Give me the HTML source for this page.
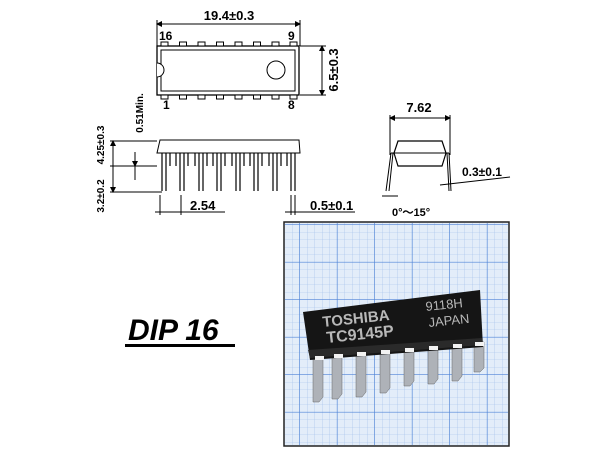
<!DOCTYPE html>
<html><head><style>
body{margin:0;width:600px;height:451px;background:#fff;overflow:hidden;font-family:"Liberation Sans",sans-serif}
</style></head><body>
<svg width="600" height="451" viewBox="0 0 600 451" xmlns="http://www.w3.org/2000/svg">
<defs>
<pattern id="g" width="7.5" height="7.5" patternUnits="userSpaceOnUse"><path d="M7.5 0V7.5H0" fill="none" stroke="#9dbde9" stroke-width="0.6"/></pattern>
<pattern id="G" width="37.5" height="37.5" patternUnits="userSpaceOnUse"><path d="M37.5 0V37.5H0" fill="none" stroke="#4d82d6" stroke-width="1.3"/></pattern>
<marker id="a" markerWidth="6" markerHeight="6" refX="5" refY="3" orient="auto-start-reverse"><path d="M0 0L6 3L0 6z" fill="#000"/></marker>
</defs>
<g stroke="#000" fill="none" stroke-width="1">
<line x1="157" y1="24" x2="300" y2="24" marker-start="url(#a)" marker-end="url(#a)"/>
<line x1="157" y1="20" x2="157" y2="46"/><line x1="300" y1="20" x2="300" y2="46"/>
<rect x="157" y="46" width="142" height="49" stroke-width="1.3"/>
<rect x="161" y="50" width="134" height="41"/>
<path d="M157 63A7 7 0 0 1 157 77" fill="#fff"/>
<circle cx="276" cy="70" r="9"/>
<g fill="#fff">
<rect x="161" y="42" width="7" height="4"/><rect x="179.5" y="42" width="7" height="4"/><rect x="198" y="42" width="7" height="4"/><rect x="216.5" y="42" width="7" height="4"/><rect x="235" y="42" width="7" height="4"/><rect x="253.5" y="42" width="7" height="4"/><rect x="272" y="42" width="7" height="4"/><rect x="290" y="42" width="7" height="4"/>
<rect x="161" y="95" width="7" height="4"/><rect x="179.5" y="95" width="7" height="4"/><rect x="198" y="95" width="7" height="4"/><rect x="216.5" y="95" width="7" height="4"/><rect x="235" y="95" width="7" height="4"/><rect x="253.5" y="95" width="7" height="4"/><rect x="272" y="95" width="7" height="4"/><rect x="290" y="95" width="7" height="4"/>
</g>
<line x1="300" y1="46" x2="326" y2="46"/><line x1="300" y1="95" x2="326" y2="95"/>
<line x1="322" y1="46" x2="322" y2="95" marker-start="url(#a)" marker-end="url(#a)"/>
<path d="M160 140H299L300 153H157Z"/>
<g stroke-width="1.2">
<path d="M162 153V191M166 153V191"/><path d="M180 153V191M184 153V191"/><path d="M199 153V191M203 153V191"/><path d="M217 153V191M221 153V191"/><path d="M236 153V191M240 153V191"/><path d="M254 153V191M258 153V191"/><path d="M273 153V191M277 153V191"/><path d="M291 153V191M295 153V191"/>
<path d="M170 153V166M176 153V166M188 153V166M195 153V166M207 153V166M213 153V166M225 153V166M232 153V166M244 153V166M250 153V166M262 153V166M269 153V166M281 153V166M287 153V166"/>
</g>
<line x1="110" y1="141" x2="157" y2="141"/><line x1="110" y1="166" x2="157" y2="166"/><line x1="110" y1="192" x2="162" y2="192"/>
<line x1="113" y1="141" x2="113" y2="192" marker-start="url(#a)" marker-end="url(#a)"/>
<line x1="135" y1="152" x2="135" y2="166" marker-end="url(#a)"/><line x1="135" y1="180" x2="135" y2="166"/>
<line x1="160" y1="195" x2="160" y2="215"/><line x1="181" y1="195" x2="181" y2="215"/>
<line x1="155" y1="212" x2="225" y2="212"/>
<line x1="291" y1="195" x2="291" y2="215"/><line x1="295" y1="195" x2="295" y2="215"/>
<line x1="285" y1="212" x2="355" y2="212"/>
<line x1="390" y1="118" x2="450" y2="118" marker-start="url(#a)" marker-end="url(#a)"/>
<line x1="390" y1="115" x2="390" y2="155"/><line x1="450" y1="115" x2="450" y2="155"/>
<path d="M398 141H442L446 153L442 166H398L394 153Z" stroke-width="1.2"/>
<line x1="391" y1="153" x2="449" y2="153"/>
<path d="M391 153L386 191M393 153L389 191M447 153L449 191M449 153L451 191"/>
<line x1="382" y1="196" x2="398" y2="196"/>
<line x1="440" y1="185" x2="510" y2="177"/>
</g>
<g font-weight="bold" font-size="12" fill="#000">
<text x="229" y="20" text-anchor="middle" font-size="13">19.4±0.3</text>
<text x="159" y="40">16</text><text x="288" y="40">9</text>
<text x="163" y="109">1</text><text x="288" y="109">8</text>
<text transform="translate(338 70) rotate(-90)" text-anchor="middle" font-size="13">6.5±0.3</text>
<text transform="translate(143 113) rotate(-90)" text-anchor="middle" font-size="10">0.51Min.</text>
<text transform="translate(104 145) rotate(-90)" text-anchor="middle" font-size="10">4.25±0.3</text>
<text transform="translate(104 196) rotate(-90)" text-anchor="middle" font-size="10">3.2±0.2</text>
<text x="190" y="210" font-size="13">2.54</text>
<text x="310" y="210" font-size="13">0.5±0.1</text>
<text x="419" y="112" text-anchor="middle" font-size="13">7.62</text>
<text x="462" y="176" font-size="12">0.3±0.1</text>
<text x="392" y="216" font-size="11">0°～15°</text>
</g>
<text x="128" y="340" font-size="30" font-weight="bold" font-style="italic" fill="#000">DIP 16</text>
<rect x="125" y="344" width="110" height="3" fill="#000"/>
<rect x="284" y="222" width="225" height="224" fill="#e3edf9" stroke="#222" stroke-width="1.5"/>
<rect x="285" y="223" width="223" height="222" fill="url(#g)"/>
<rect x="285" y="223" width="223" height="222" fill="url(#G)"/>
<g fill="#aeb2b8" stroke="#666" stroke-width="0.5">
<path d="M313 357h10v40l-4 5h-6z"/><path d="M332 354h10v40l-4 5h-6z"/><path d="M356 352h10v40l-4 5h-6z"/><path d="M380 350h10v38l-4 5h-6z"/><path d="M404 348h10v33l-4 5h-6z"/><path d="M428 346h10v33l-4 5h-6z"/><path d="M452 344h10v32l-4 5h-6z"/><path d="M474 342h10v26l-4 4h-6z"/>
</g>
<path d="M303 312L480 290L483 347L310 360Z" fill="#151515"/>
<path d="M308 350L482 338L482 345L310 358Z" fill="#2a2a2a"/>
<g fill="#f2f2f2">
<rect x="315" y="356" width="9" height="4"/><rect x="334" y="354" width="9" height="4"/><rect x="357" y="352" width="9" height="4"/><rect x="381" y="350" width="9" height="4"/><rect x="405" y="348" width="9" height="4"/><rect x="429" y="346" width="9" height="4"/><rect x="453" y="344" width="9" height="4"/><rect x="475" y="342" width="9" height="4"/>
</g>
<g fill="#b8b8b8" font-weight="bold">
<text transform="translate(323 327) rotate(-6)" font-size="15">TOSHIBA</text>
<text transform="translate(327 343) rotate(-6)" font-size="16">TC9145P</text>
<text transform="translate(426 311) rotate(-6)" font-size="13" font-weight="normal">9118H</text>
<text transform="translate(429 327) rotate(-6)" font-size="13" font-weight="normal">JAPAN</text>
</g>
</svg>
</body></html>
